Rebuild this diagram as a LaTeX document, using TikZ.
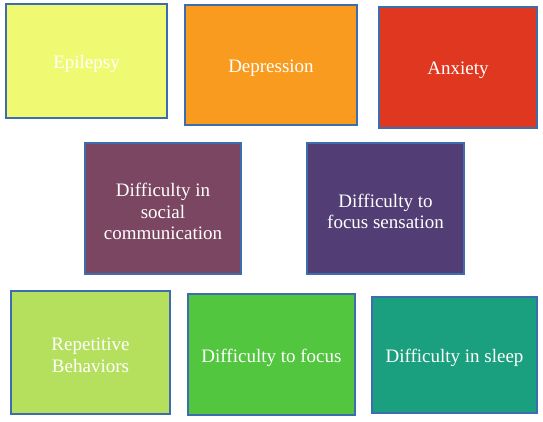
\documentclass[tikz,border=0pt]{standalone}
\usepackage{fontspec}
\setmainfont{Liberation Serif}
\definecolor{bordc}{HTML}{3E6DAF}
\definecolor{cEpi}{HTML}{EFFA72}
\definecolor{cDep}{HTML}{F99B1E}
\definecolor{cAnx}{HTML}{E03820}
\definecolor{cSoc}{HTML}{7B4661}
\definecolor{cSen}{HTML}{523D74}
\definecolor{cRep}{HTML}{B5E05E}
\definecolor{cFoc}{HTML}{51C63E}
\definecolor{cSlp}{HTML}{1AA07E}
\tikzset{
  boxnode/.style={draw=bordc, line width=1.4pt, inner sep=0pt},
  boxtext/.style={text=white, align=center, inner sep=0pt, yshift=-3pt,
    font=\fontsize{19}{21.5}\selectfont},
}
\newcommand{\mybox}[7]{% name, x1, y1, x2, y2, color, text
  \node[boxnode, fill=#6, minimum width={#4-#2}, minimum height={#5-#3},
    label={[boxtext]center:#7}] (#1) at ({(#2+#4)/2},{(#3+#5)/2}) {};
}
\begin{document}
\begin{tikzpicture}[x=1pt,y=-1pt]
\useasboundingbox (0,0) rectangle (543,422);
\fill[white] (0,0) rectangle (543,422);
\mybox{epi}{6}{4}{167}{118}{cEpi}{Epilepsy}
\mybox{dep}{185}{5}{357}{125}{cDep}{Depression}
\mybox{anx}{379}{7}{537}{128}{cAnx}{Anxiety}
\mybox{soc}{85}{143}{241}{274}{cSoc}{Difficulty in\\social\\communication}
\mybox{sen}{307}{143}{464}{274}{cSen}{Difficulty to\\focus sensation}
\mybox{rep}{11}{291}{170}{414}{cRep}{Repetitive\\Behaviors}
\mybox{foc}{188}{294}{355}{415}{cFoc}{Difficulty to focus}
\mybox{slp}{372}{297}{537}{413}{cSlp}{Difficulty in sleep}
\end{tikzpicture}
\end{document}
